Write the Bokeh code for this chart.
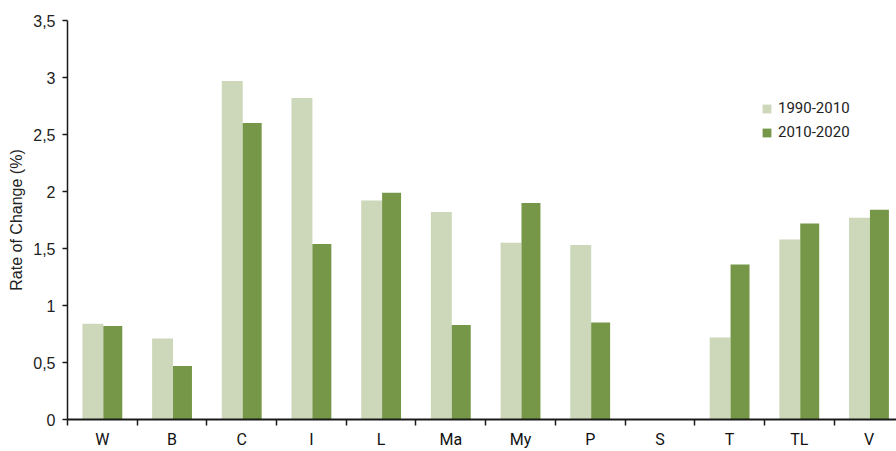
import numpy as np
from bokeh.plotting import figure
from bokeh.models import (ColumnDataSource, Range1d, FixedTicker, CustomJSTickFormatter,
                          Legend, LegendItem)
from bokeh.embed import file_html
from bokeh.resources import INLINE

# ---- data ----
categories = ["W", "B", "C", "I", "L", "Ma", "My", "P", "S", "T", "TL", "V"]
series_names = ["1990-2010", "2010-2020"]
rate_1990_2010 = [0.84, 0.71, 2.97, 2.82, 1.92, 1.82, 1.55, 1.53, 0.0, 0.72, 1.58, 1.77]
rate_2010_2020 = [0.82, 0.47, 2.60, 1.54, 1.99, 0.83, 1.90, 0.85, 0.0, 1.36, 1.72, 1.84]
y_ticks = [0, 0.5, 1, 1.5, 2, 2.5, 3, 3.5]

LIGHT = "#CCD8B9"
DARK = "#759747"
AXIS = "#1a1a1a"

idx = np.arange(len(categories))
src = ColumnDataSource(dict(
    x1=idx + 0.364, x2=idx + 0.65,
    a=rate_1990_2010, b=rate_2010_2020,
))

p = figure(width=896, height=451, output_backend="svg", toolbar_location=None,
           x_range=Range1d(0, 11.895), y_range=Range1d(0, 3.5),
           min_border_left=67, min_border_top=20, min_border_right=0, min_border_bottom=30)
p.outline_line_color = None
p.xgrid.visible = False
p.ygrid.visible = False
p.background_fill_color = "white"
p.border_fill_color = "white"

r1 = p.vbar(x="x1", top="a", width=0.3, source=src, fill_color=LIGHT, line_color=None)
r2 = p.vbar(x="x2", top="b", width=0.272, source=src, fill_color=DARK, line_color=None)

# x axis: labels at centers, ticks at boundaries
xa = p.xaxis[0]
xa.ticker = FixedTicker(ticks=[i + 0.5 for i in range(len(categories))],
                        minor_ticks=list(range(len(categories) + 1)))
xa.formatter = CustomJSTickFormatter(args=dict(names=categories),
                                     code="return names[Math.floor(tick)] || '';")
xa.major_tick_out = 0
xa.major_tick_in = 0
xa.minor_tick_out = 6
xa.minor_tick_in = 0
xa.minor_tick_line_color = AXIS
xa.minor_tick_line_width = 1.5
xa.axis_line_color = AXIS
xa.axis_line_width = 2
xa.major_label_text_font = "Roboto"
xa.major_label_text_font_size = "16px"
xa.major_label_text_color = "#111111"
xa.major_label_standoff = 4

# y axis
ya = p.yaxis[0]
ya.ticker = FixedTicker(ticks=y_ticks, minor_ticks=[])
ya.formatter = CustomJSTickFormatter(code="return tick.toString().replace('.', ',');")
ya.major_tick_out = 5
ya.major_tick_in = 0
ya.major_tick_line_color = AXIS
ya.major_tick_line_width = 1.5
ya.minor_tick_out = 0
ya.minor_tick_in = 0
ya.axis_line_color = AXIS
ya.axis_line_width = 1.5
ya.major_label_text_font = "Liberation Sans"
ya.major_label_text_font_size = "16px"
ya.major_label_text_color = "#222222"
ya.major_label_standoff = 7
ya.axis_label = "Rate of Change (%)"
ya.axis_label_text_font = "Liberation Sans"
ya.axis_label_text_font_size = "16px"
ya.axis_label_text_font_style = "normal"
ya.axis_label_text_color = "#222222"
ya.axis_label_standoff = 5

legend = Legend(items=[LegendItem(label=series_names[0], renderers=[r1]),
                       LegendItem(label=series_names[1], renderers=[r2])],
                location=(694, 277), orientation="vertical")
legend.glyph_width = 11
legend.glyph_height = 11
legend.label_standoff = 6
legend.label_height = 20
legend.spacing = 4
legend.padding = 0
legend.margin = 0
legend.border_line_color = None
legend.background_fill_alpha = 0
legend.label_text_font = "Roboto"
legend.label_text_font_size = "15px"
legend.label_text_color = "#222222"
p.add_layout(legend, "center")

open("out.html", "w").write(file_html(p, INLINE))
